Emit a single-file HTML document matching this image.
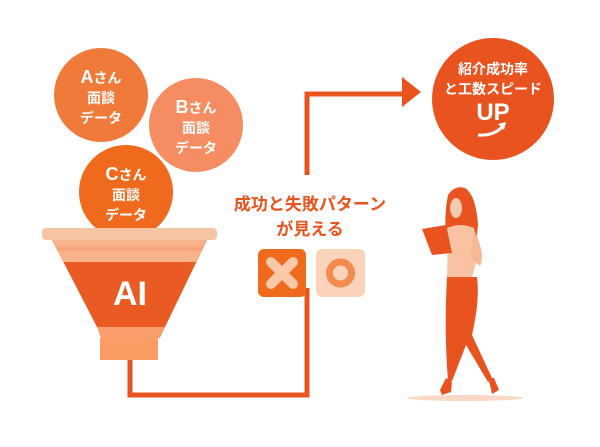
<!DOCTYPE html>
<html><head><meta charset="utf-8"><style>
html,body{margin:0;padding:0;background:#fff;width:600px;height:447px;overflow:hidden}
svg text{font-family:"Liberation Sans","Noto Sans CJK JP",sans-serif;font-weight:bold}
</style></head><body>
<svg width="600" height="447" viewBox="0 0 600 447" xmlns="http://www.w3.org/2000/svg">
<!-- connectors -->
<polyline points="130,358 130,395 307,395 307,288" fill="none" stroke="#e8541e" stroke-width="5"/>
<polyline points="307,175 307,94 405,94" fill="none" stroke="#e8541e" stroke-width="5"/>
<polygon points="402,77 421,92 402,107" fill="#e8541e"/>
<!-- circles -->
<circle cx="101" cy="95" r="47" fill="#f07a3a"/>
<circle cx="196" cy="125" r="47" fill="#f58c62"/>
<circle cx="126" cy="192" r="47" fill="#f06a1e"/>
<g fill="#fff" text-anchor="middle" font-size="14">
<text x="101" y="83"><tspan font-size="18">A</tspan>さん</text>
<text x="101" y="103">面談</text>
<text x="101" y="123">データ</text>
<text x="196" y="113"><tspan font-size="18">B</tspan>さん</text>
<text x="196" y="133">面談</text>
<text x="196" y="153">データ</text>
<text x="126" y="180"><tspan font-size="18">C</tspan>さん</text>
<text x="126" y="200">面談</text>
<text x="126" y="220">データ</text>
</g>
<!-- funnel -->
<polygon points="52,240 207,240 165,327 97,327" fill="#ea5a23"/>
<polygon points="52,240 207,240 196,262 63,262" fill="#f9b38c"/>
<polygon points="55,246 204,246 201,251 58,251" fill="#f7a57a"/>
<polygon points="97,327 165,327 160,338 101,338" fill="#f99f6b"/>
<rect x="100" y="338" width="58" height="22" fill="#fa9c64"/>
<rect x="42" y="228" width="175" height="12" rx="4" fill="#f7c4a4"/>
<text x="130" y="305" fill="#fff" font-size="34" text-anchor="middle">AI</text>
<!-- middle label -->
<g fill="#e8541e" font-size="17" text-anchor="middle">
<text x="310" y="210">成功と失敗パターン</text>
<text x="310" y="235">が見える</text>
</g>
<rect x="258" y="249" width="48" height="48" rx="6" fill="#f06a1e"/>
<g stroke="#fbc9a8" stroke-width="10" stroke-linecap="round"><line x1="271" y1="262" x2="293" y2="284"/><line x1="293" y1="262" x2="271" y2="284"/></g>
<rect x="316" y="249" width="49" height="48" rx="6" fill="#fbd3bb"/>
<circle cx="340.5" cy="273" r="11" fill="none" stroke="#f38a4e" stroke-width="7"/>
<!-- result circle -->
<circle cx="493" cy="99" r="61" fill="#e8531f"/>
<g fill="#fff" text-anchor="middle">
<text x="493" y="74" font-size="14">紹介成功率</text>
<text x="493" y="94" font-size="14">と工数スピード</text>
<text x="493" y="120" font-size="24">UP</text>
</g>
<path d="M478,135 Q494,136 502,127" fill="none" stroke="#fff" stroke-width="3"/>
<polygon points="498,124 506,122 504,130" fill="#fff"/>
<!-- woman -->
<ellipse cx="465" cy="398" rx="58" ry="3" fill="#fbd8c6"/>
<path d="M448,195 Q455,185 465,188 Q476,195 478,225 L476,245 L446,240 Q444,215 448,195Z" fill="#e8531f"/>
<ellipse cx="456" cy="208" rx="6" ry="10" fill="#f5c8b0"/>
<path d="M447,228 Q460,222 474,228 L478,255 L472,277 L447,277 Q448,255 447,228Z" fill="#f9c2a2"/>
<path d="M474,230 Q486,255 480,266 L470,258Z" fill="#f7b896"/>
<polygon points="422,229 446,225 452,253 432,255" fill="#e8531f"/>
<path d="M447,277 L477,277 Q480,300 472,335 L492,378 L488,382 L466,345 L452,381 L448,381 Q444,330 447,277Z" fill="#e8531f"/>
<path d="M446,378 L452,382 L451,392 L442,395 L440,390Z" fill="#e8531f"/>
<path d="M488,378 L494,378 L499,390 L492,394 L490,385Z" fill="#e8531f"/>
</svg>
</body></html>
